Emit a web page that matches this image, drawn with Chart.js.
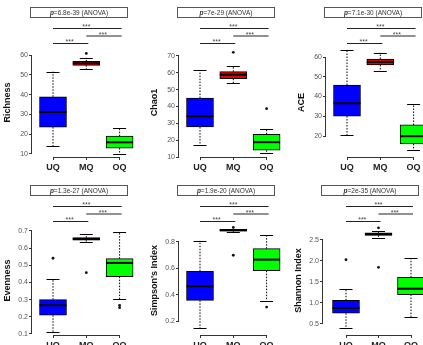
<!DOCTYPE html>
<html>
<head>
<meta charset="utf-8">
<script src="https://cdn.jsdelivr.net/npm/chart.js@4.4.0/dist/chart.umd.min.js"></script>
<style>
  html, body { margin: 0; padding: 0; background: #fff; }
  body { width: 423px; height: 345px; overflow: hidden; position: relative; }
  canvas { position: absolute; }
</style>
</head>
<body>
<script>
// groups and metrics
const groups = ['UQ', 'MQ', 'OQ'];
const groupColors = ['#0000ff', '#e60000', '#00ff00'];
const metrics = ['Richness', 'Chao1', 'ACE', 'Evenness', "Simpson's Index", 'Shannon Index'];
const pValues = ['6.8e-39', '7e-29', '7.1e-30', '1.3e-27', '1.9e-20', '2e-35'];

// box statistics, one row per metric, columns UQ / MQ / OQ
const lowWhisker  = [[13.9, 52.8, 10.0], [17.0, 54.0, 12.3], [20.5, 52.9, 12.9],
                     [0.11, 0.634, 0.302], [0.147, 0.876, 0.354], [0.405, 2.54, 0.67]];
const q1          = [[23.6, 54.8, 13.0], [27.8, 56.5, 14.0], [30.1, 56.0, 16.0],
                     [0.209, 0.646, 0.434], [0.357, 0.882, 0.582], [0.755, 2.61, 1.20]];
const median      = [[31.2, 55.8, 15.9], [34.2, 58.9, 18.8], [36.6, 57.5, 19.9],
                     [0.267, 0.653, 0.514], [0.464, 0.889, 0.666], [0.88, 2.64, 1.34]];
const q3          = [[38.9, 56.8, 19.0], [45.0, 60.7, 23.5], [45.8, 59.0, 25.6],
                     [0.300, 0.661, 0.539], [0.578, 0.895, 0.749], [1.064, 2.67, 1.61]];
const highWhisker = [[51.6, 58.6, 23.0], [61.7, 64.0, 26.8], [63.5, 62.2, 36.0],
                     [0.422, 0.681, 0.694], [0.805, 0.900, 0.851], [1.34, 2.71, 2.07]];
const outliers    = [[[], [60.8], []], [[], [72.2], [38.7]], [[], [], []],
                     [[0.541], [0.457], [0.267, 0.253]], [[], [0.91, 0.699], [0.306]],
                     [[2.03], [2.79, 1.85], []]];

// y axis ticks
const yTicks = [[10, 20, 30, 40, 50, 60], [10, 20, 30, 40, 50, 60, 70], [20, 30, 40, 50, 60],
                [0.1, 0.2, 0.3, 0.4, 0.5, 0.6, 0.7], [0.2, 0.4, 0.6, 0.8], [0.5, 1.0, 1.5, 2.0, 2.5]];
const tickDecimals = [0, 0, 0, 1, 1, 1];

// layout of the 6 panels (canvas position + scale ranges)
const panels = [
  { left: 0,   top: 0,   width: 140, yMin: 8.48,  yMax: 63.54, off: 21, step: 33.3 },
  { left: 147, top: 0,   width: 140, yMin: 10.0,  yMax: 74.75, off: 21, step: 33.3 },
  { left: 294, top: 0,   width: 129, yMin: 9.37,  yMax: 64.56, off: 21, step: 33.3 },
  { left: 0,   top: 178, width: 140, yMin: 0.094, yMax: 0.729, off: 21, step: 33.3 },
  { left: 147, top: 178, width: 140, yMin: 0.094, yMax: 0.921, off: 21, step: 33.3 },
  { left: 291, top: 178, width: 132, yMin: 0.238, yMax: 2.833, off: 23, step: 32.5 }
];
const canvasHeight = 175;
const plotTop = 48;
const plotBottom = 157;
const yAxisWidth = 32;
const FONT = "'Liberation Sans', Arial, sans-serif";

const boxExtras = {
  id: 'boxExtras',
  afterDatasetsDraw(chart, args, opts) {
    const i = opts.panel;
    const xs = chart.scales.x, ys = chart.scales.y;
    const ctx = chart.ctx;
    ctx.save();
    ctx.beginPath();
    ctx.rect(chart.chartArea.left, 0, chart.width, chart.height);
    ctx.clip();
    ctx.strokeStyle = '#000';
    groups.forEach((g, k) => {
      const x = xs.getPixelForValue(k + 1);
      // dotted whiskers
      ctx.lineWidth = 1;
      ctx.setLineDash([1.5, 1.5]);
      ctx.beginPath();
      ctx.moveTo(x, ys.getPixelForValue(q3[i][k]));
      ctx.lineTo(x, ys.getPixelForValue(highWhisker[i][k]));
      ctx.moveTo(x, ys.getPixelForValue(q1[i][k]));
      ctx.lineTo(x, ys.getPixelForValue(lowWhisker[i][k]));
      ctx.stroke();
      ctx.setLineDash([]);
      // caps
      ctx.beginPath();
      [highWhisker[i][k], lowWhisker[i][k]].forEach(v => {
        const y = Math.round(ys.getPixelForValue(v)) + 0.5;
        ctx.moveTo(x - 6.5, y);
        ctx.lineTo(x + 6.5, y);
      });
      ctx.stroke();
      // median
      ctx.lineWidth = 2;
      ctx.beginPath();
      const ym = ys.getPixelForValue(median[i][k]);
      ctx.moveTo(x - 13.5, ym);
      ctx.lineTo(x + 13.5, ym);
      ctx.stroke();
    });
    ctx.restore();
  },
  afterDraw(chart, args, opts) {
    const i = opts.panel;
    const xs = chart.scales.x, ys = chart.scales.y;
    const ctx = chart.ctx;
    const area = chart.chartArea;
    ctx.save();
    ctx.strokeStyle = '#333';
    ctx.lineWidth = 1;
    // y axis line from first to last tick
    const ax = Math.round(area.left) - 0.5;
    ctx.beginPath();
    ctx.moveTo(ax, ys.getPixelForValue(yTicks[i][0]));
    ctx.lineTo(ax, ys.getPixelForValue(yTicks[i][yTicks[i].length - 1]));
    ctx.stroke();
    // x axis bracket
    const by = Math.round(area.bottom) + 0.5;
    ctx.beginPath();
    ctx.moveTo(xs.getPixelForValue(1), by);
    ctx.lineTo(xs.getPixelForValue(groups.length), by);
    ctx.stroke();

    // p-value box
    const bx = Math.round(area.left) - 1.5;
    ctx.fillStyle = '#fff';
    ctx.strokeStyle = '#555';
    ctx.fillRect(bx, 7.5, 97, 10);
    ctx.strokeRect(bx, 7.5, 97, 10);
    ctx.fillStyle = '#333';
    ctx.textBaseline = 'middle';
    const pPart = 'p';
    const rest = '=' + pValues[i] + ' (ANOVA)';
    ctx.font = 'italic bold 6.5px ' + FONT;
    const w1 = ctx.measureText(pPart).width;
    ctx.font = '6.5px ' + FONT;
    const w2 = ctx.measureText(rest).width;
    const tx = bx + 48.5 - (w1 + w2) / 2;
    ctx.textAlign = 'left';
    ctx.font = 'italic bold 6.5px ' + FONT;
    ctx.fillText(pPart, tx, 12.8);
    ctx.font = '6.5px ' + FONT;
    ctx.fillText(rest, tx + w1, 12.8);

    // significance brackets
    const pairs = [[1, 3, 28.5], [2, 3, 36], [1, 2, 43.5]];
    ctx.strokeStyle = '#222';
    ctx.fillStyle = '#444';
    ctx.font = '7px ' + FONT;
    ctx.textAlign = 'center';
    ctx.textBaseline = 'alphabetic';
    pairs.forEach(([a, b, y]) => {
      const xa = xs.getPixelForValue(a), xb = xs.getPixelForValue(b);
      ctx.beginPath();
      ctx.moveTo(xa, y);
      ctx.lineTo(xb + 2, y);
      ctx.stroke();
      ctx.fillText('***', (xa + xb) / 2, y + 0.5);
    });
    ctx.restore();
  }
};

function makePanel(i) {
  const p = panels[i];
  const canvas = document.createElement('canvas');
  canvas.width = p.width;
  canvas.height = canvasHeight;
  canvas.style.left = p.left + 'px';
  canvas.style.top = p.top + 'px';
  document.body.appendChild(canvas);

  const xMin = 1 - p.off / p.step;
  const xMax = xMin + (p.width - yAxisWidth) / p.step;

  const boxData = groups.map((g, k) => ({ x: k + 1, y: [q1[i][k], q3[i][k]] }));
  const outlierData = [];
  groups.forEach((g, k) => outliers[i][k].forEach(v => outlierData.push({ x: k + 1, y: v })));

  new Chart(canvas, {
    data: {
      datasets: [{
        type: 'bar',
        data: boxData,
        backgroundColor: groupColors,
        borderColor: '#000',
        borderWidth: 1,
        borderSkipped: false,
        barThickness: 27
      }, {
        type: 'scatter',
        data: outlierData,
        pointRadius: 1.4,
        pointBackgroundColor: '#111',
        pointBorderWidth: 0
      }]
    },
    options: {
      responsive: false,
      animation: false,
      layout: { autoPadding: false, padding: { top: plotTop, left: 0, right: 0, bottom: 0 } },
      plugins: {
        legend: { display: false },
        tooltip: { enabled: false },
        boxExtras: { panel: i }
      },
      scales: {
        x: {
          type: 'linear',
          offset: false,
          min: xMin,
          max: xMax,
          afterBuildTicks: s => { s.ticks = groups.map((g, k) => ({ value: k + 1 })); },
          afterFit: s => { s.height = canvasHeight - plotBottom; s.paddingLeft = 0; s.paddingRight = 0; },
          ticks: {
            callback: v => groups[Math.round(v) - 1],
            font: { family: FONT, size: 9, weight: 'bold' },
            color: '#222',
            padding: 2,
            maxRotation: 0,
            autoSkip: false
          },
          grid: { offset: false, drawOnChartArea: false, tickLength: 3, color: '#333' },
          border: { display: false }
        },
        y: {
          min: p.yMin,
          max: p.yMax,
          afterBuildTicks: s => { s.ticks = yTicks[i].map(v => ({ value: v })); },
          afterFit: s => { s.width = yAxisWidth; s.paddingTop = 0; s.paddingBottom = 0; },
          ticks: {
            callback: v => Number(v).toFixed(tickDecimals[i]),
            font: { family: FONT, size: 7 },
            color: '#555',
            padding: 1
          },
          grid: { drawOnChartArea: false, tickLength: 3, color: '#333' },
          border: { display: false },
          title: {
            display: true,
            text: metrics[i],
            font: { family: FONT, size: 9, weight: 'bold' },
            color: '#111',
            padding: { top: 2, bottom: 0 }
          }
        }
      }
    },
    plugins: [boxExtras]
  });
}

panels.forEach((p, i) => makePanel(i));
</script>
</body>
</html>
